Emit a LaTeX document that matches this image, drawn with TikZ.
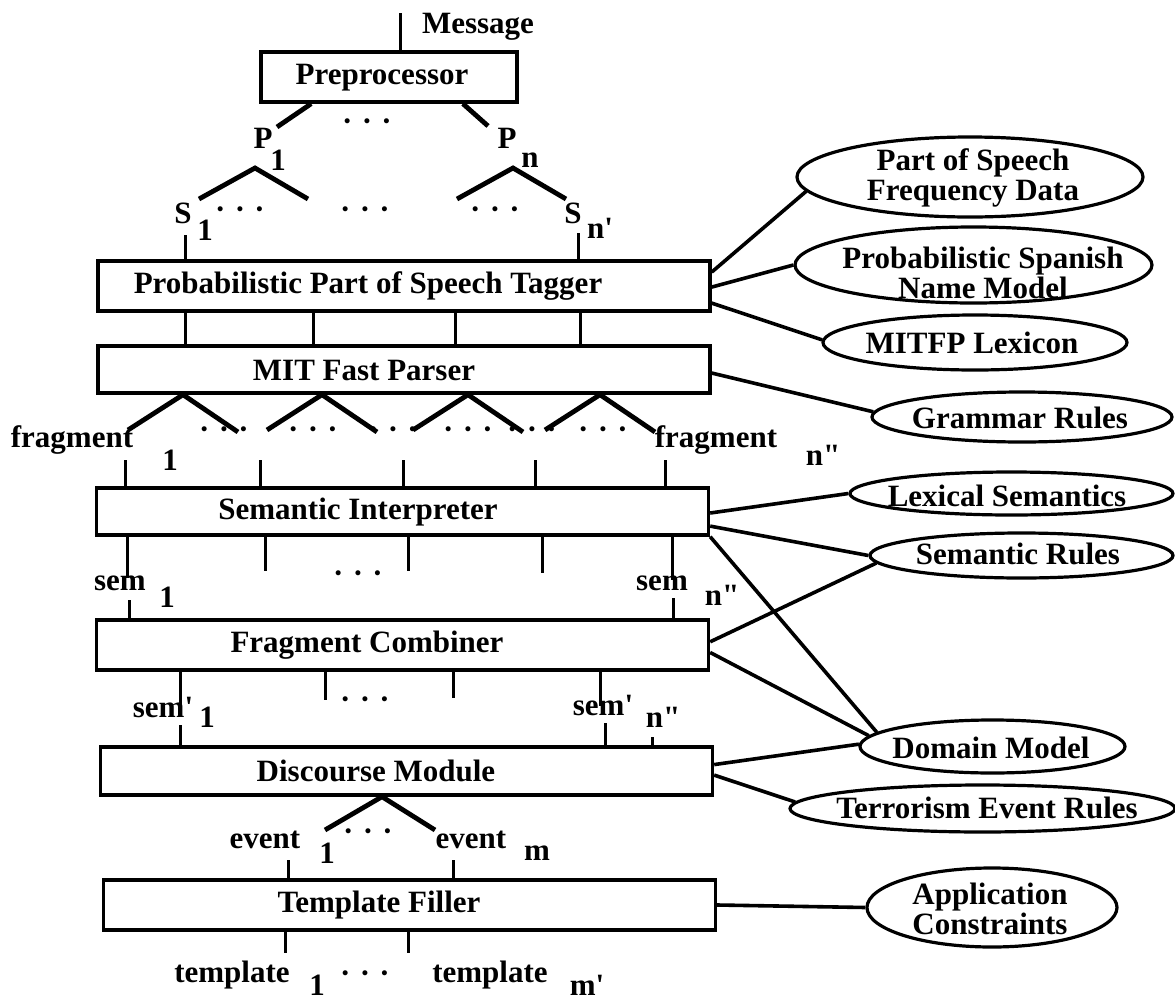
\documentclass[tikz,border=0pt]{standalone}
\usepackage{fontspec}
\setmainfont{Liberation Serif}
\usetikzlibrary{shapes.geometric}
\usetikzlibrary{calc}

% three raised dots between the indexed items
\newcommand{\trio}{\textperiodcentered\hspace{.3em}\textperiodcentered\hspace{.3em}\textperiodcentered}
\newcommand{\pr}{\textquotesingle}
\newcommand{\dpr}{\textquotedbl}

\begin{document}
\begin{tikzpicture}[x=0.5pt,y=-0.5pt,
	tag/.style={font=\fontsize{15.5}{15}\selectfont\bfseries,inner sep=0pt,align=center},
	stage/.style={draw,line width=1.7pt,inner sep=0pt,minimum width=306pt,minimum height=25pt},
	store/.style={draw,ellipse,line width=1.6pt,inner sep=0pt},
	branch/.style={line width=2.4pt},
	tick/.style={line width=1.5pt},
	feed/.style={line width=1.8pt}]

	\useasboundingbox (0,0) rectangle (1175,1002);

	% processing stages
	\node[stage,minimum width=128pt] (prep) at (389,77) {};
	\node[stage] (tagger) at (404,286) {};
	\node[stage,minimum height=23.5pt] (parser) at (404,369.5) {};
	\node[stage,minimum height=23.5pt] (interp) at (402.5,511.5) {};
	\node[stage] (combiner) at (402.5,645) {};
	\node[stage,minimum height=24pt] (discourse) at (406.5,771) {};
	\node[stage] (filler) at (409.5,905) {};

	\node[tag] (prep-t) at (382,78) {Preprocessor};
	\node[tag] (tagger-t) at (368,286) {Probabilistic Part of Speech Tagger};
	\node[tag] (parser-t) at (364,370) {MIT Fast Parser};
	\node[tag] (interp-t) at (358,512) {Semantic Interpreter};
	\node[tag] (combiner-t) at (367,645) {Fragment Combiner};
	\node[tag] (discourse-t) at (376,771) {Discourse Module};
	\node[tag] (filler-t) at (379,905) {Template Filler};

	% knowledge sources
	\node[store,minimum width=173pt,minimum height=40pt] (posdata) at (970,177) {};
	\node[store,minimum width=178.5pt,minimum height=38pt] (namemodel) at (973.5,265) {};
	\node[store,minimum width=152pt,minimum height=27.5pt] (lexicon) at (975,342.5) {};
	\node[store,minimum width=150pt,minimum height=25pt] (grammar) at (1022,417) {};
	\node[store,minimum width=161.5pt,minimum height=21.5pt] (lexsem) at (1011.5,493.5) {};
	\node[store,minimum width=151.5pt,minimum height=22.5pt] (semrules) at (1021.5,555.5) {};
	\node[store,minimum width=132.5pt,minimum height=26.5pt] (domain) at (992.5,746.5) {};
	\node[store,minimum width=192.5pt,minimum height=23.5pt] (terror) at (982.5,808.5) {};
	\node[store,minimum width=125pt,minimum height=39.5pt] (appl) at (992,907.5) {};

	\node[tag] (posdata-t) at (973,178) {Part of Speech\\Frequency Data};
	\node[tag] (namemodel-t) at (983,273) {Probabilistic Spanish\\Name Model};
	\node[tag] (lexicon-t) at (972,343) {MITFP Lexicon};
	\node[tag] (grammar-t) at (1020,418) {Grammar Rules};
	\node[tag] (lexsem-t) at (1007,496) {Lexical Semantics};
	\node[tag] (semrules-t) at (1018,554) {Semantic Rules};
	\node[tag] (domain-t) at (991,748) {Domain Model};
	\node[tag] (terror-t) at (987,808) {Terrorism Event Rules};
	\node[tag] (appl-t) at (990,909) {Application\\Constraints};

	\draw[feed] ($(tagger.north east)!.24!(tagger.south east)$) -- (posdata.185);
	\draw[feed] ($(tagger.north east)!.52!(tagger.south east)$) -- (namemodel.180);
	\draw[feed] ($(tagger.north east)!.82!(tagger.south east)$) -- (lexicon.179);
	\draw[feed] ($(parser.north east)!.57!(parser.south east)$) -- (grammar.178);
	\draw[feed] ($(interp.north east)!.53!(interp.south east)$) -- (lexsem.180);
	\draw[feed] ($(interp.north east)!.79!(interp.south east)$) -- (semrules.180);
	\draw[feed] (interp.south east) -- (domain.173);
	\draw[feed] ($(combiner.north east)!.44!(combiner.south east)$) -- (semrules.183);
	\draw[feed] ($(combiner.north east)!.64!(combiner.south east)$) -- (domain.175);
	\draw[feed] ($(discourse.north east)!.375!(discourse.south east)$) -- (domain.179);
	\draw[feed] ($(discourse.north east)!.58!(discourse.south east)$) -- (terror.178);
	\draw[feed] (filler.east) -- (appl.180);

	% message -> paragraphs
	\coordinate (msg-in) at (400,13);
	\draw[tick] (msg-in) -- (msg-in |- prep.north);
	\node[tag] (msg) at (478,27) {Message};

	\coordinate (p1-end) at (277,127);
	\coordinate (pn-end) at (488,126);
	\draw[branch] ($(prep.south west)!.2!(prep.south east)$) -- (p1-end);
	\draw[branch] ($(prep.south west)!.785!(prep.south east)$) -- (pn-end);
	\node[tag] (p1) at (263,138) {P};
	\node[tag] (p1-i) at (278,160) {1};
	\node[tag] (pn) at (507,138) {P};
	\node[tag] (pn-i) at (530,160) {n};
	\node[tag] (p-dots) at (367,125) {\trio};

	% paragraphs -> sentences
	\foreach \n/\a in {s1/255,sn/513} {
		\coordinate (\n-top) at (\a,168);
		\coordinate (\n-l) at (\a-56,199);
		\coordinate (\n-r) at (\a+53,199);
		\draw[branch] (\n-l) -- (\n-top) -- (\n-r);
	}
	\node[tag] (s1) at (183,213) {S};
	\node[tag] (s1-i) at (205,230) {1};
	\node[tag] (sn) at (573,213) {S};
	\node[tag] (sn-i) at (600,228) {n\pr};
	\foreach \x [count=\i] in {240,365,495}
		\node[tag] (s-dots\i) at (\x,213) {\trio};
	\coordinate (s1-foot) at (185,235);
	\coordinate (sn-foot) at (578,233);
	\draw[tick] (s1-foot) -- (s1-foot |- tagger.north);
	\draw[tick] (sn-foot) -- (sn-foot |- tagger.north);

	\foreach \x in {185,313,455,580}
		\draw[tick] (\x,0 |- tagger.south) -- (\x,0 |- parser.north);

	% parser -> fragments
	\foreach \a [count=\i] in {183,322,468,600} {
		\coordinate (f\i-top) at (\a,0 |- parser.south);
		\coordinate (f\i-l) at (\a-55,430);
		\coordinate (f\i-r) at (\a+55,432);
		\draw[branch] (f\i-l) -- (f\i-top) -- (f\i-r);
	}
	\node[tag] (frag1) at (72,440) {fragment};
	\node[tag] (frag1-i) at (170,460) {1};
	\node[tag] (fragn) at (716,440) {fragment};
	\node[tag] (fragn-i) at (823,455) {n\dpr};
	\foreach \x [count=\i] in {224,313,393,468,532,603}
		\node[tag] (f-dots\i) at (\x,433) {\trio};
	\foreach \x in {125,260,403,535,665} {
		\coordinate (g\x) at (\x,460);
		\draw[tick] (g\x) -- (g\x |- interp.north);
	}

	% interpreter -> sem
	\foreach \x/\y in {127/578,265/571,408/571,542/573,672/580} {
		\coordinate (h\x) at (\x,\y);
		\draw[tick] (h\x |- interp.south) -- (h\x);
	}
	\node[tag] (sem1) at (120,583) {sem};
	\node[tag] (sem1-i) at (167,597) {1};
	\node[tag] (semn) at (662,583) {sem};
	\node[tag] (semn-i) at (722,595) {n\dpr};
	\node[tag] (sem-dots) at (358,577) {\trio};
	\foreach \x/\y in {129/600,673/598} {
		\coordinate (k\x) at (\x,\y);
		\draw[tick] (k\x) -- (k\x |- combiner.north);
	}

	% combiner -> sem'
	\foreach \x/\y in {180/706,325/700,453/698,600/706} {
		\coordinate (m\x) at (\x,\y);
		\draw[tick] (m\x |- combiner.south) -- (m\x);
	}
	\node[tag] (csem1) at (163,707) {sem\pr};
	\node[tag] (csem1-i) at (207,717) {1};
	\node[tag] (csemn) at (603,705) {sem\pr};
	\node[tag] (csemn-i) at (663,717) {n\dpr};
	\node[tag] (csem-dots) at (365,703) {\trio};
	\foreach \x/\y in {180/725,605/723,652/737} {
		\coordinate (q\x) at (\x,\y);
		\draw[tick] (q\x) -- (q\x |- discourse.north);
	}

	% discourse -> events
	\coordinate (ev-top) at (382,0 |- discourse.south);
	\coordinate (ev-l) at (325,830);
	\coordinate (ev-r) at (435,830);
	\draw[branch] (ev-l) -- (ev-top) -- (ev-r);
	\node[tag] (ev1) at (265,840) {event};
	\node[tag] (ev1-i) at (327,853) {1};
	\node[tag] (evm) at (471,840) {event};
	\node[tag] (evm-i) at (537,853) {m};
	\node[tag] (ev-dots) at (368,835) {\trio};
	\foreach \x in {288,453} {
		\coordinate (e\x) at (\x,860);
		\draw[tick] (e\x) -- (e\x |- filler.north);
	}

	% filler -> templates
	\foreach \x in {285,408} {
		\coordinate (t\x) at (\x,953);
		\draw[tick] (t\x |- filler.south) -- (t\x);
	}
	\node[tag] (tp1) at (232,975) {template};
	\node[tag] (tp1-i) at (317,985) {1};
	\node[tag] (tpm) at (490,975) {template};
	\node[tag] (tpm-i) at (587,985) {m\pr};
	\node[tag] (tp-dots) at (365,977) {\trio};
\end{tikzpicture}
\end{document}
